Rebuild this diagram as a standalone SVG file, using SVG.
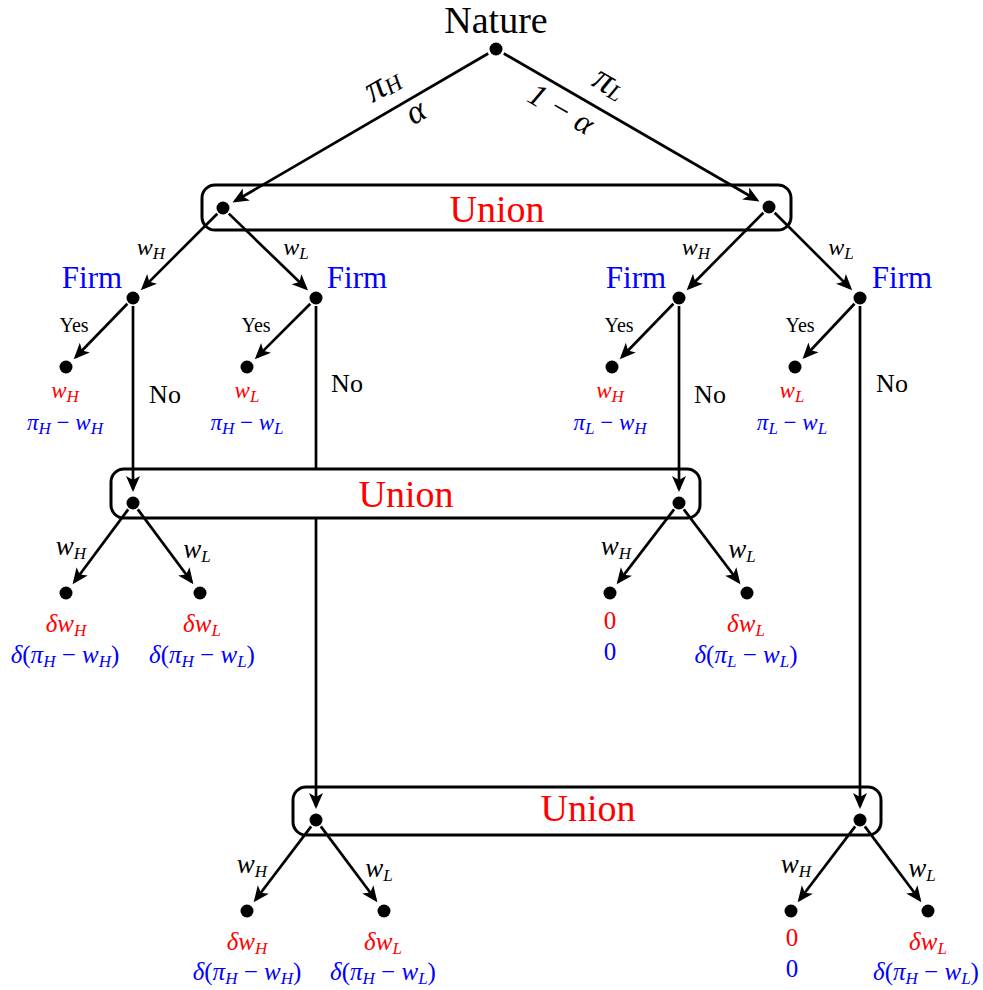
<svg xmlns="http://www.w3.org/2000/svg" width="983" height="990" viewBox="0 0 983 990">
<style>
text{font-family:"Liberation Serif","Times New Roman",serif;text-anchor:middle;fill:#000}
.i{font-style:italic}
.r{fill:#ff0000}
.b{fill:#0000ff}
.firm{font-size:31px;fill:#0000ff}
.union{font-size:38px;fill:#ff0000}
.yes{font-size:20px}
.no{font-size:26px}
.pay{font-size:23px}
.pay2{font-size:25px}
.el{font-size:27px;font-style:italic}
.el2{font-size:24px;font-style:italic}
.s{font-size:17px;font-style:italic}
.box{fill:none;stroke:#000;stroke-width:3}
.dot{fill:#000}
.con line{stroke:#000;stroke-width:2.7;fill:none}
.con line.a{marker-end:url(#ar)}
</style>
<defs>
<marker id="ar" markerUnits="userSpaceOnUse" viewBox="-14 -8 18 16" refX="0" refY="0" markerWidth="18" markerHeight="16" orient="auto">
<path d="M3,0 L-13,-7 L-9,0 L-13,7 Z" fill="#000"/>
</marker>
</defs>

<g id="infosets">
<rect id="union1-set" class="box" x="202" y="185" width="589" height="45" rx="13"/>
<rect id="union2-set" class="box" x="111" y="469" width="589" height="49" rx="13"/>
<rect id="union3-set" class="box" x="293" y="787" width="588" height="48" rx="13"/>
<text class="union" x="497" y="222">Union</text>
<text class="union" x="406" y="507">Union</text>
<text class="union" x="588" y="821">Union</text>
</g>

<g class="con" id="connectors">
<line class="a" x1="488.2" y1="53.5" x2="235.1" y2="201"/>
<line class="a" x1="503.8" y1="53.5" x2="756.9" y2="200"/>
<line class="a" x1="217.3" y1="213.7" x2="142.9" y2="288.1"/>
<line class="a" x1="228.8" y1="213.6" x2="305.9" y2="288.3"/>
<line class="a" x1="763.4" y1="212.7" x2="688.8" y2="288"/>
<line class="a" x1="774.7" y1="212.7" x2="850.1" y2="288.1"/>
<line class="a" x1="127.4" y1="303.7" x2="75.8" y2="357"/>
<line class="a" x1="310.3" y1="303.7" x2="256.9" y2="357.1"/>
<line class="a" x1="673.4" y1="303.7" x2="621.8" y2="357"/>
<line class="a" x1="854.5" y1="303.8" x2="804.6" y2="356.8"/>
<line class="a" x1="133" y1="306" x2="133" y2="489"/>
<line x1="316" y1="306" x2="316" y2="469"/>
<line class="a" x1="316" y1="519" x2="316" y2="806"/>
<line class="a" x1="679" y1="306" x2="679" y2="489"/>
<line class="a" x1="860" y1="306" x2="860" y2="806"/>
<line class="a" x1="128.2" y1="509.4" x2="74.4" y2="581.8"/>
<line class="a" x1="137.8" y1="509.4" x2="191.6" y2="581.8"/>
<line class="a" x1="674.1" y1="509.4" x2="618.5" y2="581.9"/>
<line class="a" x1="683.8" y1="509.4" x2="738.6" y2="581.8"/>
<line class="a" x1="311.2" y1="826.4" x2="255.5" y2="899.8"/>
<line class="a" x1="320.8" y1="826.4" x2="375.6" y2="899.8"/>
<line class="a" x1="855.2" y1="826.4" x2="799.5" y2="899.8"/>
<line class="a" x1="864.8" y1="826.4" x2="919.6" y2="899.8"/>
</g>

<g id="edge-labels">
<text transform="translate(388,94) rotate(-30)" style="font-size:38px" class="i">π<tspan style="font-size:23px" dy="2">H</tspan></text>
<text transform="translate(421,121) rotate(-30)" style="font-size:34px" class="i">α</text>
<text transform="translate(556,118) rotate(30)" style="font-size:32px" class="i">1 − α</text>
<text transform="translate(604,93) rotate(30)" style="font-size:38px" class="i">π<tspan style="font-size:23px" dy="2">L</tspan></text>
<text class="el2" x="151" y="255">w<tspan class="s" dy="4">H</tspan></text>
<text class="el2" x="296" y="255">w<tspan class="s" dy="4">L</tspan></text>
<text class="el2" x="696" y="255">w<tspan class="s" dy="4">H</tspan></text>
<text class="el2" x="841" y="255">w<tspan class="s" dy="4">L</tspan></text>
<text class="yes" x="74" y="332">Yes</text>
<text class="yes" x="256" y="332">Yes</text>
<text class="yes" x="619" y="332">Yes</text>
<text class="yes" x="800" y="332">Yes</text>
<text class="no" x="165" y="403">No</text>
<text class="no" x="347" y="392">No</text>
<text class="no" x="710" y="403">No</text>
<text class="no" x="892" y="392">No</text>
<text class="el" x="71" y="555">w<tspan class="s" dy="4">H</tspan></text>
<text class="el" x="197" y="558">w<tspan class="s" dy="4">L</tspan></text>
<text class="el" x="616" y="555">w<tspan class="s" dy="4">H</tspan></text>
<text class="el" x="742" y="558">w<tspan class="s" dy="4">L</tspan></text>
<text class="el" x="252" y="873">w<tspan class="s" dy="4">H</tspan></text>
<text class="el" x="379" y="877">w<tspan class="s" dy="4">L</tspan></text>
<text class="el" x="796" y="873">w<tspan class="s" dy="4">H</tspan></text>
<text class="el" x="922" y="877">w<tspan class="s" dy="4">L</tspan></text>
</g>

<g id="nature">
<circle class="dot" cx="496" cy="49" r="6.5"/>
<text x="496" y="33" style="font-size:38px">Nature</text>
</g>
<g id="union1-H"><circle class="dot" cx="223" cy="208" r="6.5"/></g>
<g id="union1-L"><circle class="dot" cx="769" cy="207" r="6.5"/></g>

<g id="firm-H-wH"><circle class="dot" cx="133" cy="298" r="6.5"/><text class="firm" x="92" y="288">Firm</text></g>
<g id="firm-H-wL"><circle class="dot" cx="316" cy="298" r="6.5"/><text class="firm" x="357" y="288">Firm</text></g>
<g id="firm-L-wH"><circle class="dot" cx="679" cy="298" r="6.5"/><text class="firm" x="636" y="288">Firm</text></g>
<g id="firm-L-wL"><circle class="dot" cx="860" cy="298" r="6.5"/><text class="firm" x="902" y="288">Firm</text></g>

<g id="leaf-H-wH-yes"><circle class="dot" cx="66" cy="367" r="6.5"/>
<text class="pay r i" x="65" y="398">w<tspan class="s" dy="4">H</tspan></text>
<text class="pay b" x="65" y="430"><tspan class="i">π</tspan><tspan class="s" dy="4">H</tspan><tspan dy="-4"> − </tspan><tspan class="i">w</tspan><tspan class="s" dy="4">H</tspan></text></g>
<g id="leaf-H-wL-yes"><circle class="dot" cx="247" cy="367" r="6.5"/>
<text class="pay r i" x="247" y="398">w<tspan class="s" dy="4">L</tspan></text>
<text class="pay b" x="247" y="430"><tspan class="i">π</tspan><tspan class="s" dy="4">H</tspan><tspan dy="-4"> − </tspan><tspan class="i">w</tspan><tspan class="s" dy="4">L</tspan></text></g>
<g id="leaf-L-wH-yes"><circle class="dot" cx="612" cy="367" r="6.5"/>
<text class="pay r i" x="610" y="398">w<tspan class="s" dy="4">H</tspan></text>
<text class="pay b" x="610" y="430"><tspan class="i">π</tspan><tspan class="s" dy="4">L</tspan><tspan dy="-4"> − </tspan><tspan class="i">w</tspan><tspan class="s" dy="4">H</tspan></text></g>
<g id="leaf-L-wL-yes"><circle class="dot" cx="795" cy="367" r="6.5"/>
<text class="pay r i" x="792" y="398">w<tspan class="s" dy="4">L</tspan></text>
<text class="pay b" x="792" y="430"><tspan class="i">π</tspan><tspan class="s" dy="4">L</tspan><tspan dy="-4"> − </tspan><tspan class="i">w</tspan><tspan class="s" dy="4">L</tspan></text></g>

<g id="union2-H"><circle class="dot" cx="133" cy="503" r="6.5"/></g>
<g id="union2-L"><circle class="dot" cx="679" cy="503" r="6.5"/></g>

<g id="leaf-u2H-wH"><circle class="dot" cx="66" cy="593" r="6.5"/>
<text class="pay2 r" x="66" y="632"><tspan class="i">δw</tspan><tspan class="s" dy="4">H</tspan></text>
<text class="pay2 b" x="65" y="663"><tspan class="i">δ</tspan>(<tspan class="i">π</tspan><tspan class="s" dy="4">H</tspan><tspan dy="-4"> − </tspan><tspan class="i">w</tspan><tspan class="s" dy="4">H</tspan><tspan dy="-4">)</tspan></text></g>
<g id="leaf-u2H-wL"><circle class="dot" cx="200" cy="593" r="6.5"/>
<text class="pay2 r" x="202" y="632"><tspan class="i">δw</tspan><tspan class="s" dy="4">L</tspan></text>
<text class="pay2 b" x="202" y="663"><tspan class="i">δ</tspan>(<tspan class="i">π</tspan><tspan class="s" dy="4">H</tspan><tspan dy="-4"> − </tspan><tspan class="i">w</tspan><tspan class="s" dy="4">L</tspan><tspan dy="-4">)</tspan></text></g>
<g id="leaf-u2L-wH"><circle class="dot" cx="610" cy="593" r="6.5"/>
<text class="pay2 r" x="610" y="629">0</text>
<text class="pay2 b" x="610" y="660">0</text></g>
<g id="leaf-u2L-wL"><circle class="dot" cx="747" cy="593" r="6.5"/>
<text class="pay2 r" x="746" y="632"><tspan class="i">δw</tspan><tspan class="s" dy="4">L</tspan></text>
<text class="pay2 b" x="746" y="663"><tspan class="i">δ</tspan>(<tspan class="i">π</tspan><tspan class="s" dy="4">L</tspan><tspan dy="-4"> − </tspan><tspan class="i">w</tspan><tspan class="s" dy="4">L</tspan><tspan dy="-4">)</tspan></text></g>

<g id="union3-H"><circle class="dot" cx="316" cy="820" r="6.5"/></g>
<g id="union3-L"><circle class="dot" cx="860" cy="820" r="6.5"/></g>

<g id="leaf-u3H-wH"><circle class="dot" cx="247" cy="911" r="6.5"/>
<text class="pay2 r" x="247" y="950"><tspan class="i">δw</tspan><tspan class="s" dy="4">H</tspan></text>
<text class="pay2 b" x="247" y="980"><tspan class="i">δ</tspan>(<tspan class="i">π</tspan><tspan class="s" dy="4">H</tspan><tspan dy="-4"> − </tspan><tspan class="i">w</tspan><tspan class="s" dy="4">H</tspan><tspan dy="-4">)</tspan></text></g>
<g id="leaf-u3H-wL"><circle class="dot" cx="384" cy="911" r="6.5"/>
<text class="pay2 r" x="383" y="950"><tspan class="i">δw</tspan><tspan class="s" dy="4">L</tspan></text>
<text class="pay2 b" x="383" y="980"><tspan class="i">δ</tspan>(<tspan class="i">π</tspan><tspan class="s" dy="4">H</tspan><tspan dy="-4"> − </tspan><tspan class="i">w</tspan><tspan class="s" dy="4">L</tspan><tspan dy="-4">)</tspan></text></g>
<g id="leaf-u3L-wH"><circle class="dot" cx="791" cy="911" r="6.5"/>
<text class="pay2 r" x="792" y="946">0</text>
<text class="pay2 b" x="792" y="977">0</text></g>
<g id="leaf-u3L-wL"><circle class="dot" cx="928" cy="911" r="6.5"/>
<text class="pay2 r" x="928" y="950"><tspan class="i">δw</tspan><tspan class="s" dy="4">L</tspan></text>
<text class="pay2 b" x="926" y="980"><tspan class="i">δ</tspan>(<tspan class="i">π</tspan><tspan class="s" dy="4">H</tspan><tspan dy="-4"> − </tspan><tspan class="i">w</tspan><tspan class="s" dy="4">L</tspan><tspan dy="-4">)</tspan></text></g>
</svg>
